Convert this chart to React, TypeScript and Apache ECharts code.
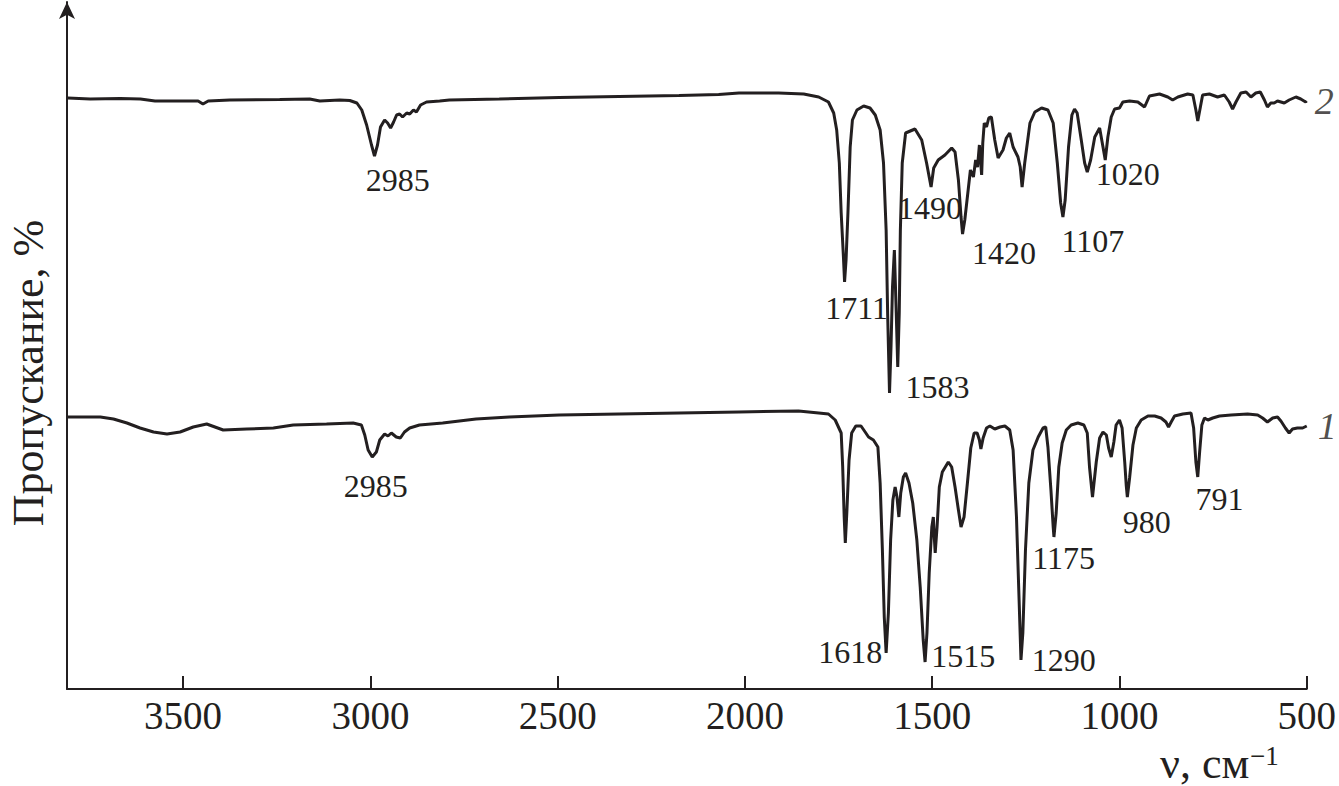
import { useEffect, useRef } from 'react';
import * as echarts from 'echarts';

// Spectrum 2 (upper curve): wavenumber, cm^-1, and transmittance (arbitrary units)
const wavenumber2 = [
  3808, 3748, 3668, 3614, 3575, 3508, 3460, 3447, 3433, 3375,
  3242, 3162, 3135, 3082, 3055, 3036, 3023, 3010, 2997, 2989,
  2981, 2973, 2962, 2954, 2946, 2938, 2930, 2922, 2914, 2903,
  2895, 2885, 2877, 2866, 2850, 2815, 2789, 2656, 2496, 2336,
  2176, 2070, 2016, 1910, 1843, 1803, 1777, 1763, 1755, 1748,
  1743, 1737, 1734, 1730, 1725, 1719, 1713, 1701, 1683, 1666,
  1652, 1639, 1630, 1623, 1619, 1614, 1610, 1606, 1601, 1596,
  1592, 1588, 1585, 1580, 1571, 1546, 1528, 1515, 1503, 1496,
  1484, 1466, 1448, 1439, 1430, 1423, 1419, 1413, 1404, 1398,
  1390, 1384, 1379, 1374, 1368, 1365, 1361, 1355, 1349, 1342,
  1333, 1324, 1311, 1302, 1293, 1284, 1271, 1265, 1260, 1253,
  1239, 1226, 1208, 1191, 1177, 1166, 1157, 1151, 1145, 1136,
  1127, 1120, 1113, 1102, 1093, 1086, 1077, 1066, 1053, 1044,
  1038, 1031, 1022, 1013, 1000, 991, 973, 951, 933, 920,
  893, 871, 858, 844, 818, 804, 796, 791, 784, 778,
  760, 738, 720, 707, 698, 689, 676, 662, 649, 636,
  624, 613, 605, 596, 587, 578, 560, 547, 529, 516, 503,
  500,
];
const transmittance2 = [
  591, 590, 590.5, 590, 588, 588, 588, 585, 588, 589,
  589.5, 590, 588, 589, 588.5, 586, 579, 564, 544, 533,
  544, 562, 569, 566, 561, 567, 574, 575, 572, 576,
  575, 579, 577, 584, 587, 588, 589, 590, 591.5, 592.5,
  593.5, 594.5, 596, 596, 595, 592, 587, 576, 559, 526,
  476, 432, 407, 429, 476, 542, 569, 579, 583, 581,
  574, 559, 526, 459, 376, 296, 342, 402, 439, 376,
  322, 376, 459, 526, 556, 560, 549, 526, 502, 521,
  529, 534, 541, 537, 509, 472, 455, 469, 499, 519,
  512, 529, 522, 544, 514, 546, 566, 562, 571, 572,
  549, 531, 539, 551, 556, 542, 532, 522, 502, 526,
  566, 577, 581, 579, 566, 526, 486, 472, 489, 542,
  574, 580, 576, 549, 526, 517, 529, 552, 561, 542,
  529, 552, 572, 580, 581, 587, 588, 587, 582, 593,
  595, 592, 589, 592, 595, 594, 579, 568, 582, 594,
  595, 592, 594, 587, 580, 587, 596, 597, 592, 596,
  597, 589, 582, 586, 586, 588, 586, 589, 592, 590, 587,
  588,
];

// Spectrum 1 (lower curve)
const wavenumber1 = [
  3808, 3774, 3721, 3686, 3650, 3615, 3579, 3543, 3508, 3473,
  3437, 3415, 3393, 3330, 3259, 3206, 3117, 3046, 3024, 3015,
  3006, 2995, 2984, 2975, 2962, 2953, 2944, 2931, 2920, 2909,
  2895, 2869, 2807, 2718, 2629, 2496, 2336, 2176, 2016, 1857,
  1803, 1777, 1759, 1743, 1739, 1735, 1732, 1728, 1722, 1715,
  1704, 1690, 1679, 1670, 1657, 1645, 1639, 1633, 1628, 1623,
  1617, 1611, 1605, 1599, 1594, 1589, 1584, 1577, 1571, 1562,
  1552, 1541, 1532, 1524, 1519, 1514, 1508, 1501, 1497, 1494,
  1492, 1487, 1481, 1473, 1457, 1448, 1439, 1430, 1423, 1415,
  1406, 1397, 1388, 1380, 1374, 1370, 1364, 1355, 1346, 1333,
  1319, 1306, 1293, 1284, 1275, 1268, 1263, 1258, 1251, 1242,
  1231, 1217, 1204, 1197, 1191, 1183, 1177, 1175, 1169, 1162,
  1153, 1142, 1129, 1111, 1095, 1086, 1080, 1072, 1062, 1053,
  1044, 1035, 1029, 1022, 1015, 1009, 1000, 993, 986, 982,
  979, 973, 964, 955, 942, 924, 906, 889, 876, 869,
  862, 853, 831, 809, 802, 796, 791, 786, 780, 773,
  764, 751, 733, 702, 658, 631, 618, 605, 591, 578,
  569, 557, 547, 538, 525, 511, 500,
];
const transmittance1 = [
  272, 272, 272, 270, 266, 261, 257, 255, 257, 262,
  265, 262, 259, 260, 261, 264, 265, 266, 264, 254,
  239, 232, 237, 249, 255, 253, 256, 252, 251, 257,
  261, 264, 266, 270, 272, 274, 275, 276, 277, 278,
  276, 275, 269, 256, 222, 172, 146, 176, 229, 256,
  263, 263, 257, 252, 249, 242, 206, 139, 72, 36,
  76, 149, 189, 202, 192, 172, 196, 212, 216, 206,
  186, 149, 102, 49, 27, 56, 116, 162, 172, 149,
  136, 162, 202, 217, 227, 222, 202, 179, 162, 172,
  206, 241, 256, 256, 249, 240, 251, 261, 263, 260,
  262, 263, 259, 239, 172, 89, 29, 56, 139, 206,
  239, 252, 261, 262, 242, 199, 162, 152, 176, 222,
  246, 259, 264, 266, 264, 256, 222, 192, 227, 251,
  257, 254, 241, 232, 247, 264, 269, 261, 227, 204,
  192, 211, 244, 261, 269, 273, 273, 271, 267, 262,
  267, 273, 275, 276, 261, 227, 212, 237, 264, 271,
  269, 271, 273, 274, 275, 274, 271, 267, 271, 272,
  268, 261, 256, 260, 261, 261, 263,
];

// Axis ticks
const xTicks = [3500, 3000, 2500, 2000, 1500, 1000, 500];

// Peak annotations: [text, wavenumber anchor, transmittance anchor]
const peakLabels2: [string, number, number][] = [
  ['2985', 2927, 509],
  ['1711', 1702, 381],
  ['1583', 1486, 302],
  ['1490', 1506, 481],
  ['1420', 1308, 436],
  ['1107', 1071, 448],
  ['1020', 978, 515],
];
const peakLabels1: [string, number, number][] = [
  ['2985', 2986, 203],
  ['1618', 1719, 37],
  ['1515', 1417, 33],
  ['1290', 1149, 29],
  ['1175', 1149, 131],
  ['980', 927, 167],
  ['791', 733, 190],
];
const curveNames = ['1', '2'];

const INK = '#231f20';
const FONT = '"Liberation Serif", "Times New Roman", serif';

function zip(xs: number[], ys: number[]) {
  return xs.map((x, i) => [x, ys[i]]);
}

export default function App() {
  const ref = useRef<HTMLDivElement>(null);
  useEffect(() => {
    if (!ref.current) return;
    const chart = echarts.init(ref.current, null, { renderer: 'svg' });
    const labelSeries = (items: [string, number, number][]) => ({
      type: 'scatter',
      silent: true,
      clip: false,
      symbol: 'circle',
      symbolSize: 0,
      itemStyle: { color: INK },
      data: items.map(([t, x, y]) => ({ name: t, value: [x, y] })),
      label: {
        show: true,
        position: 'inside',
        formatter: '{b}',
        fontSize: 32,
        fontFamily: FONT,
        color: INK,
        opacity: 1,
        textBorderWidth: 0,
      },
      z: 5,
    });
    const endOf = (xs: number[], ys: number[]) => [xs[xs.length - 1], ys[ys.length - 1]];
    const option: any = {
      animation: false,
      backgroundColor: '#ffffff',
      grid: { left: 67, right: 30, top: 2, bottom: 97, containLabel: false },
      xAxis: {
        type: 'value',
        inverse: true,
        min: 500,
        max: 3810,
        interval: 500,
        axisLine: { show: true, onZero: false, lineStyle: { color: INK, width: 2 } },
        axisTick: {
          show: true,
          inside: true,
          length: 13,
          customValues: xTicks,
          lineStyle: { color: INK, width: 2 },
        },
        axisLabel: {
          show: true,
          customValues: xTicks,
          formatter: (v: number) => String(v),
          margin: 7,
          fontSize: 39,
          fontFamily: FONT,
          color: INK,
        },
        splitLine: { show: false },
      },
      yAxis: {
        type: 'value',
        min: 0,
        max: 687,
        axisLine: {
          show: true,
          onZero: false,
          symbol: ['none', 'arrow'],
          symbolSize: [12, 17],
          lineStyle: { color: INK, width: 2 },
        },
        axisTick: { show: false },
        axisLabel: { show: false },
        splitLine: { show: false },
      },
      series: [
        {
          name: curveNames[1],
          type: 'line',
          data: zip(wavenumber2, transmittance2),
          showSymbol: false,
          symbol: 'none',
          silent: true,
          lineStyle: { color: INK, width: 3 },
        },
        {
          name: curveNames[0],
          type: 'line',
          data: zip(wavenumber1, transmittance1),
          showSymbol: false,
          symbol: 'none',
          silent: true,
          lineStyle: { color: INK, width: 3 },
        },
        labelSeries(peakLabels2),
        labelSeries(peakLabels1),
        {
          type: 'scatter',
          silent: true,
          clip: false,
          symbolSize: 0,
          itemStyle: { color: INK },
          data: [
            { name: curveNames[1], value: endOf(wavenumber2, transmittance2), label: { distance: 8 } },
            { name: curveNames[0], value: endOf(wavenumber1, transmittance1), label: { distance: 11 } },
          ],
          label: {
            show: true,
            position: 'right',
            formatter: '{b}',
            fontSize: 38,
            fontStyle: 'italic',
            fontFamily: FONT,
            color: INK,
            textBorderWidth: 0,
          },
        },
      ],
      graphic: [
        {
          type: 'text',
          x: 28,
          y: 373,
          rotation: Math.PI / 2,
          style: {
            text: 'Пропускание, %',
            align: 'center',
            verticalAlign: 'middle',
            fontSize: 44,
            fontFamily: FONT,
            fill: INK,
          },
        },
        {
          type: 'text',
          x: 1160,
          y: 763,
          style: {
            text: 'ν, см',
            align: 'left',
            verticalAlign: 'middle',
            fontSize: 44,
            fontFamily: FONT,
            fill: INK,
          },
        },
        {
          type: 'text',
          x: 1250,
          y: 756,
          style: {
            text: '−1',
            align: 'left',
            verticalAlign: 'middle',
            fontSize: 27,
            fontFamily: FONT,
            fill: INK,
          },
        },
      ],
    };
    chart.setOption(option);
    return () => chart.dispose();
  }, []);
  return (
    <div
      ref={ref}
      style={{ position: 'fixed', left: 0, top: 0, width: 1339, height: 786, background: '#fff' }}
    />
  );
}
